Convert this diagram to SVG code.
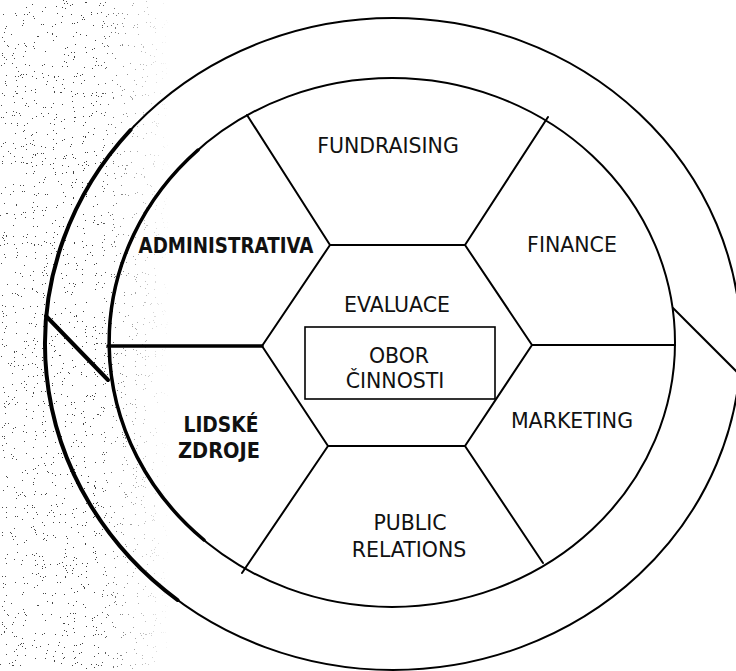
<svg xmlns="http://www.w3.org/2000/svg" width="736" height="671" viewBox="0 0 736 671">
<style>
.ln{fill:none;stroke:#000;stroke-width:2;stroke-linecap:round;stroke-linejoin:round}
.thk{fill:none;stroke:#000;stroke-width:4;stroke-linecap:round}
.t{font-family:"DejaVu Sans","Verdana","Liberation Sans",sans-serif;font-size:20.5px;fill:#111;text-anchor:middle}
.b{font-weight:bold}
</style>
<defs>
<filter id="grain" x="0" y="0" width="170" height="671" filterUnits="userSpaceOnUse">
<feTurbulence type="fractalNoise" baseFrequency="0.9" numOctaves="2" seed="7" result="n"/>
<feColorMatrix in="n" type="matrix" values="0 0 0 0 0  0 0 0 0 0  0 0 0 0 0  9 0 0 0 -6.1"/>
<feComponentTransfer><feFuncA type="discrete" tableValues="0 1"/></feComponentTransfer>
</filter>
<linearGradient id="fade" x1="0" y1="0" x2="170" y2="0" gradientUnits="userSpaceOnUse">
<stop offset="0" stop-color="#fff" stop-opacity="0.7"/>
<stop offset="0.55" stop-color="#fff" stop-opacity="0.75"/>
<stop offset="1" stop-color="#fff" stop-opacity="0"/>
</linearGradient>
<mask id="fm"><rect x="0" y="0" width="170" height="671" fill="url(#fade)"/></mask>
</defs>
<rect width="736" height="671" fill="#fff"/>
<g id="scan-grain" mask="url(#fm)"><rect x="0" y="0" width="170" height="671" filter="url(#grain)"/></g>

<g id="outer-ring">
<ellipse class="ln" cx="393" cy="344" rx="348" ry="326"/>
<path class="thk" d="M130.5,130 A348,326 0 0 0 177.5,600"/>
</g>
<g id="inner-ring">
<ellipse class="ln" cx="392" cy="342.5" rx="283" ry="264.5"/>
<path class="ln" style="stroke-width:3.5" d="M198,150 A283,264.5 0 0 0 204,540"/>
</g>
<g id="hexagon">
<polygon class="ln" points="330,245 465,245 532,345 465,446 328,446 262,346"/>
</g>
<g id="connectors">
<line class="ln" x1="330" y1="245" x2="247" y2="115"/>
<line class="ln" x1="465" y1="245" x2="548" y2="117"/>
<line class="ln" x1="532" y1="345" x2="675" y2="345"/>
<line class="ln" x1="465" y1="446" x2="543" y2="563"/>
<line class="ln" x1="328" y1="446" x2="242" y2="573"/>
<line class="ln" style="stroke-width:3.5" x1="262" y1="346" x2="108" y2="346"/>
<line class="thk" x1="46" y1="316" x2="108" y2="380"/>
<line class="ln" x1="673" y1="308" x2="740" y2="375"/>
</g>
<g id="fundraising"><text class="t" x="388" y="153">FUNDRAISING</text></g>
<g id="finance"><text class="t" x="572" y="252">FINANCE</text></g>
<g id="administrativa"><text class="t b" x="226" y="253" textLength="175" lengthAdjust="spacingAndGlyphs">ADMINISTRATIVA</text></g>
<g id="evaluace"><text class="t" x="397" y="312">EVALUACE</text></g>
<g id="obor-cinnosti">
<rect x="305" y="327" width="190" height="72" fill="none" stroke="#000" stroke-width="1.6"/>
<text class="t" x="399" y="363">OBOR</text>
<text class="t" x="395" y="388">ČINNOSTI</text>
</g>
<g id="lidske-zdroje">
<text class="t b" x="221" y="432" textLength="75" lengthAdjust="spacingAndGlyphs">LIDSKÉ</text>
<text class="t b" x="219" y="458" textLength="82" lengthAdjust="spacingAndGlyphs">ZDROJE</text>
</g>
<g id="marketing"><text class="t" x="572" y="428">MARKETING</text></g>
<g id="public-relations">
<text class="t" x="410" y="530">PUBLIC</text>
<text class="t" x="409" y="557">RELATIONS</text>
</g>
</svg>
